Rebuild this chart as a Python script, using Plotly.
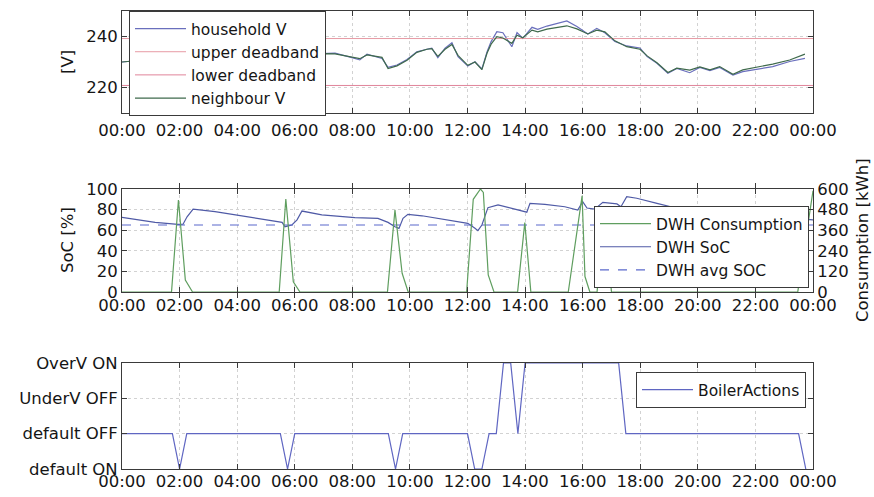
import plotly.graph_objects as go

# ---------------- data ----------------
# hours of the day (0-24) for the voltage traces
volt_hours = [0.0, 1.0, 2.0, 3.0, 4.0, 5.0, 6.0, 7.0, 7.4, 8.02, 8.26, 8.51, 8.78, 9.03, 9.24,
              9.55, 9.9, 10.24, 10.59, 10.76, 10.97, 11.22, 11.46, 11.67, 12.01, 12.26,
              12.5, 12.68, 12.82, 13.02, 13.23, 13.54, 13.72, 13.92, 14.24, 14.44, 14.76,
              15.1, 15.45, 15.8, 16.18, 16.49, 16.77, 17.12, 17.53, 17.99, 18.24, 18.58,
              18.96, 19.27, 19.72, 20.07, 20.42, 20.76, 21.22, 21.56, 22.05, 22.6, 23.19,
              23.72]
household_v = [230.0, 231.0, 232.0, 232.5, 233.0, 232.5, 233.0, 233.5, 233.5, 231.6, 230.8,
               233.1, 232.1, 231.4, 227.9, 228.8, 231.0, 234.0, 235.0, 235.4, 231.7, 235.4,
               237.6, 232.1, 228.4, 230.1, 227.3, 234.0, 238.0, 241.9, 241.5, 236.0, 241.5,
               239.3, 243.6, 242.8, 244.1, 245.2, 246.1, 243.9, 241.0, 243.2, 241.5, 238.0,
               236.3, 235.5, 232.1, 229.5, 225.6, 227.5, 225.8, 227.9, 226.6, 227.9, 224.9,
               226.2, 227.2, 228.2, 230.2, 231.4]
neighbour_v = [230.0, 231.0, 232.0, 232.5, 233.0, 232.5, 233.0, 233.3, 233.2, 231.9, 231.3,
               232.8, 232.3, 231.8, 227.4, 228.5, 230.7, 233.8, 235.0, 235.2, 232.2, 235.0,
               236.9, 232.6, 228.7, 230.0, 227.0, 233.5, 237.0, 239.9, 239.4, 237.3, 240.5,
               239.5, 242.5, 241.8, 242.9, 243.6, 244.2, 243.0, 241.0, 242.5, 241.8, 238.3,
               236.0, 235.0, 232.4, 229.7, 225.9, 227.6, 226.8, 228.1, 226.9, 228.2, 225.2,
               226.9, 227.9, 229.2, 230.8, 233.1]
upper_deadband = 239.2
lower_deadband = 220.8

# domestic water heater state of charge [%]
soc_hours = [0.0, 0.45, 1.15, 1.94, 2.12, 2.26, 2.47, 3.23, 3.92, 4.62, 5.31, 5.56, 5.66,
             5.9, 6.08, 6.25, 6.94, 7.64, 8.09, 8.89, 9.24, 9.48, 9.62, 9.76, 9.93, 10.42,
             10.97, 11.56, 12.01, 12.26, 12.36, 12.5, 12.71, 13.06, 13.54, 13.99, 14.06,
             14.17, 14.69, 15.38, 15.83, 16.0, 16.15, 16.42, 16.7, 17.19, 17.33, 17.53,
             17.88, 18.58, 19.27, 20.07, 21.8, 23.2, 24.0]
dwh_soc = [72.5, 70.6, 67.6, 65.7, 65.8, 73.0, 80.5, 78.0, 74.8, 71.5, 68.9, 67.6, 63.4,
           65.0, 70.0, 78.6, 74.8, 73.1, 72.2, 71.5, 67.6, 63.4, 61.8, 71.5, 75.4, 74.0,
           71.5, 68.9, 66.7, 61.8, 59.5, 65.0, 81.9, 84.5, 81.3, 78.6, 77.5, 86.1, 85.1,
           82.8, 79.6, 87.7, 81.5, 80.5, 87.0, 85.5, 82.8, 92.5, 91.0, 86.0, 81.3, 79.0,
           75.0, 72.0, 70.0]
dwh_avg_soc = 65.0

# domestic water heater consumption [kWh]
cons_hours = [0.0, 1.72, 1.96, 2.2, 2.45, 5.46, 5.69, 5.95, 6.18, 9.22, 9.48, 9.73, 9.94,
              11.97, 12.2, 12.45, 12.55, 12.72, 12.92, 13.74, 13.99, 14.2, 15.5, 15.98,
              16.08, 16.25, 16.5, 16.75, 17.0, 23.47, 24.0]
dwh_consumption = [0, 0, 536, 70, 0, 0, 542, 60, 0, 0, 478, 109, 0, 0, 540, 600, 580, 100,
                   0, 0, 405, 0, 0, 560, 90, 0, 0, 480, 0, 0, 590]

# boiler action states: 0 default ON, 1 default OFF, 2 UnderV OFF, 3 OverV ON
action_hours = [0.0, 1.75, 2.0, 2.25, 5.5, 5.75, 6.0, 9.25, 9.5, 9.75, 12.0, 12.25, 12.5,
                12.75, 13.0, 13.25, 13.5, 13.75, 14.0, 17.25, 17.5, 23.5, 23.75]
boiler_actions = [1, 1, 0, 1, 1, 0, 1, 1, 0, 1, 1, 0, 0, 1, 1, 3, 3, 1, 3, 3, 1, 1, 0]
action_labels = ["default ON", "default OFF", "UnderV OFF", "OverV ON"]

hour_ticks = list(range(0, 25, 2))
hour_labels = ["%02d:00" % (h % 24) for h in hour_ticks]

# ---------------- figure ----------------
W, H = 874, 497
FONT = "DejaVu Sans, Verdana, sans-serif"
FS = 16.5          # tick labels and axis titles
LFS = 15.5         # legend entries
AXC = "#3a3a3a"
GRID = "#d2d2d2"
TXT = "#151515"


def px_x(v):
    return v / W


def px_y(v):
    return 1 - v / H


fig = go.Figure()

# top: voltages
fig.add_trace(go.Scatter(x=volt_hours, y=household_v, name="household V", mode="lines",
                         line=dict(color="#6a6fbd", width=1.2), xaxis="x", yaxis="y",
                         legend="legend"))
fig.add_trace(go.Scatter(x=[0, 24], y=[upper_deadband] * 2, name="upper deadband",
                         mode="lines", line=dict(color="#e79aa5", width=1),
                         xaxis="x", yaxis="y", legend="legend"))
fig.add_trace(go.Scatter(x=[0, 24], y=[lower_deadband] * 2, name="lower deadband",
                         mode="lines", line=dict(color="#e0849a", width=1),
                         xaxis="x", yaxis="y", legend="legend"))
fig.add_trace(go.Scatter(x=volt_hours, y=neighbour_v, name="neighbour V", mode="lines",
                         line=dict(color="#3f6a4c", width=1.2), xaxis="x", yaxis="y",
                         legend="legend"))

# middle: water heater
fig.add_trace(go.Scatter(x=cons_hours, y=dwh_consumption, name="DWH Consumption",
                         mode="lines", line=dict(color="#5f9e5f", width=1.2),
                         xaxis="x2", yaxis="y4", legend="legend2"))
fig.add_trace(go.Scatter(x=soc_hours, y=dwh_soc, name="DWH SoC", mode="lines",
                         line=dict(color="#4f5aa6", width=1.2), xaxis="x2", yaxis="y2",
                         legend="legend2"))
fig.add_trace(go.Scatter(x=[0, 24], y=[dwh_avg_soc] * 2, name="DWH avg SOC", mode="lines",
                         line=dict(color="#5b69cc", width=1.1, dash="dash"),
                         xaxis="x2", yaxis="y2", legend="legend2"))

# bottom: boiler actions
fig.add_trace(go.Scatter(x=action_hours, y=boiler_actions, name="BoilerActions",
                         mode="lines", line=dict(color="#5f66c2", width=1.2),
                         xaxis="x3", yaxis="y3", legend="legend3"))

xdom = [px_x(122), px_x(813)]


def xaxis(anchor, standoff):
    return dict(domain=xdom, anchor=anchor, range=[0, 24], tickvals=hour_ticks,
                ticktext=hour_labels, ticks="inside", ticklen=5, tickcolor=AXC,
                showline=True, linecolor=AXC, linewidth=1, mirror="allticks",
                showgrid=True, gridcolor=GRID, griddash="dot", zeroline=False,
                automargin=False, tickfont=dict(size=FS, color=TXT),
                ticklabelstandoff=standoff)


def yaxis(anchor, dom, rng, **kw):
    d = dict(domain=dom, anchor=anchor, range=rng, ticks="inside", ticklen=5,
             tickcolor=AXC, showline=True, linecolor=AXC, linewidth=1,
             showgrid=True, gridcolor=GRID, griddash="dot", zeroline=False,
             automargin=False, tickfont=dict(size=FS, color=TXT))
    d.update(kw)
    return d


legend_common = dict(bgcolor="white", bordercolor=AXC, borderwidth=1,
                     font=dict(size=LFS, color=TXT, family=FONT),
                     tracegroupgap=0, itemwidth=51)

fig.update_layout(
    width=W, height=H, autosize=False,
    margin=dict(l=0, r=0, t=0, b=0, pad=0, autoexpand=False),
    paper_bgcolor="white", plot_bgcolor="white",
    font=dict(family=FONT, size=FS, color=TXT),
    xaxis=xaxis("y", 2),
    xaxis2=xaxis("y2", -2),
    xaxis3=xaxis("y3", -3),
    yaxis=yaxis("x", [px_y(113), px_y(11)], [210, 250], tickvals=[220, 240],
                mirror="allticks"),
    yaxis2=yaxis("x2", [px_y(292), px_y(189)], [0, 100],
                 tickvals=[0, 20, 40, 60, 80, 100], mirror=True),
    yaxis4=yaxis("x2", [px_y(292), px_y(189)], [0, 600], overlaying="y2", side="right",
                 tickvals=[0, 120, 240, 360, 480, 600], showgrid=False),
    yaxis3=yaxis("x3", [px_y(469), px_y(363)], [0, 3], tickvals=[0, 1, 2, 3],
                 ticktext=action_labels, mirror="allticks"),
    legend=dict(legend_common, x=px_x(129), y=px_y(11), xanchor="left", yanchor="top"),
    legend2=dict(legend_common, x=px_x(809), y=px_y(206), xanchor="right", yanchor="top"),
    legend3=dict(legend_common, x=px_x(806), y=px_y(372), xanchor="right", yanchor="top"),
    showlegend=True,
    annotations=[
        dict(text="[V]", x=px_x(67), y=px_y(62), xref="paper", yref="paper",
             textangle=-90, showarrow=False, xanchor="center", yanchor="middle",
             font=dict(size=FS)),
        dict(text="SoC [%]", x=px_x(67), y=px_y(240), xref="paper", yref="paper",
             textangle=-90, showarrow=False, xanchor="center", yanchor="middle",
             font=dict(size=FS)),
        dict(text="Consumption [kWh]", x=px_x(862), y=px_y(240), xref="paper",
             yref="paper", textangle=-90, showarrow=False, xanchor="center",
             yanchor="middle", font=dict(size=FS)),
    ],
)

fig.write_html("out.html")
